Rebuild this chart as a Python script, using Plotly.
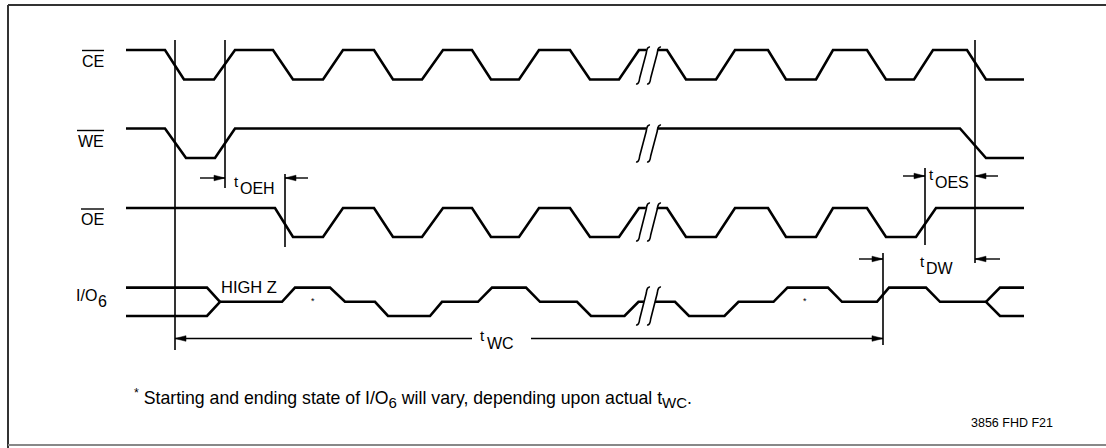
import plotly.graph_objects as go

# ---------------- data ----------------
# transition times on the horizontal time axis and logic levels (1 = high, 0 = low)
CE_T = [126, 165, 184, 214, 235, 273, 293, 323, 343, 374, 393, 422, 443, 472, 491, 519, 539, 570,
        590, 619, 639, 667, 686, 716, 735, 768, 786, 816, 833, 867, 886, 914, 933, 967, 986, 1024]
CE_L = [1, 1, 0, 0] * 9

WE_T = [126, 165, 186, 215, 235, 960, 986, 1024]
WE_L = [1, 1, 0, 0, 1, 1, 0, 0]

OE_T = [126, 275, 293, 323, 343, 374, 393, 422, 443, 472, 491, 519, 539, 570, 590, 619, 639, 667,
        686, 716, 735, 768, 786, 816, 833, 867, 886, 916, 936, 1024]
OE_L = [1, 1, 0, 0] * 7 + [1, 1]

# I/O6: 2 = high, 1 = high Z (middle), 0 = low
IO_T = [220, 282, 295, 330, 345, 375, 388, 430, 442, 478, 492, 526, 540, 577, 591, 624.5, 638.5,
        675, 689, 724.5, 738.5, 773.5, 787.5, 828, 842, 877, 889, 926, 940, 986]
IO_L = [1, 1, 2, 2, 1, 1, 0, 0, 1, 1, 2, 2, 1, 1, 0, 0, 1, 1, 0, 0, 1, 1, 2, 2, 1, 1, 2, 2, 1, 1]
IO_START_T = [126, 207, 220]
IO_START_HI = [2, 2, 1]
IO_START_LO = [0, 0, 1]
IO_END_T = [986, 1000, 1024]
IO_END_HI = [1, 2, 2]
IO_END_LO = [1, 0, 0]

# timing reference edges (time, top, bottom)
REF_T = [175, 225, 285, 925, 975, 883]
REF_TOP = [40, 40, 174, 168, 40, 253]
REF_BOT = [350, 188, 247, 245, 263, 345]

# dimension arrows: (from, to, row); arrowhead at "to"
ARROW_FROM = [200, 308, 903, 998, 859, 1000, 472, 531]
ARROW_TO = [225, 285, 925, 975, 883, 975, 175, 883]
ARROW_ROW = [178, 178, 176, 176, 259, 259, 338.5, 338.5]

BREAK_T = [643, 654]
STAR_T = [313, 805]

SIGNAL_LABELS = ["CE", "WE", "OE"]

# ---------------- layout helpers ----------------
LANES = {"CE": (79.5, 29.5), "WE": (158.0, 29.5), "OE": (237.0, 29.0), "IO": (316.0, 14.2)}
BREAK_SPAN = {"CE": (47, 84), "WE": (125, 162), "OE": (203, 241), "IO": (287, 325)}


def ys(lane, levels):
    base, amp = LANES[lane]
    return [base - l * amp for l in levels]


W, H = 1106, 448
fig = go.Figure()
SIG = dict(color="black", width=2.6)

for lane, t, l in [("CE", CE_T, CE_L), ("WE", WE_T, WE_L), ("OE", OE_T, OE_L), ("IO", IO_T, IO_L),
                   ("IO", IO_START_T, IO_START_HI), ("IO", IO_START_T, IO_START_LO),
                   ("IO", IO_END_T, IO_END_HI), ("IO", IO_END_T, IO_END_LO)]:
    fig.add_trace(go.Scatter(x=t, y=ys(lane, l), mode="lines", line=SIG, hoverinfo="skip"))

# reference verticals
vx, vy = [], []
for t, a, b in zip(REF_T, REF_TOP, REF_BOT):
    vx += [t, t, None]
    vy += [a, b, None]
fig.add_trace(go.Scatter(x=vx, y=vy, mode="lines", line=dict(color="black", width=1.6), hoverinfo="skip"))

# dimension lines
hx, hy = [], []
for a, b, r in zip(ARROW_FROM, ARROW_TO, ARROW_ROW):
    hx += [a, b, None]
    hy += [r, r, None]
fig.add_trace(go.Scatter(x=hx, y=hy, mode="lines", line=dict(color="black", width=1.4), hoverinfo="skip"))

shapes = []
# arrowheads
for a, b, r in zip(ARROW_FROM, ARROW_TO, ARROW_ROW):
    d = 1 if b > a else -1
    shapes.append(dict(type="path", xref="x", yref="y",
                       path=f"M {b},{r} L {b - d * 11},{r - 2.8} L {b - d * 11},{r + 2.8} Z",
                       fillcolor="black", line=dict(color="black", width=0.5)))

# break marks
c1, c2 = BREAK_T
for lane, (yt, yb) in BREAK_SPAN.items():
    shapes.append(dict(type="path", xref="x", yref="y",
                       path=f"M {c1-4},{yb+1} L {c1+4},{yt-1} L {c2+4},{yt-1} L {c2-4},{yb+1} Z",
                       fillcolor="white", line=dict(width=0)))
    for c in (c1, c2):
        shapes.append(dict(type="path", xref="x", yref="y",
                           path=(f"M {c-7},{yb} Q {c-4},{yb+0.5} {c-3.3},{yb-6} "
                                 f"L {c+3.3},{yt+6} Q {c+4},{yt-0.5} {c+7},{yt}"),
                           line=dict(color="black", width=1.6)))

# overlines on active-low signal names
for lane, (x0, y0) in {"CE": (82, 50.5), "WE": (77, 130.5), "OE": (81, 209)}.items():
    shapes.append(dict(type="line", xref="x", yref="y", x0=x0, x1=104, y0=y0, y1=y0,
                       line=dict(color="black", width=1.4)))

# frame
shapes.append(dict(type="line", xref="x", yref="y", x0=8, x1=W, y0=5, y1=5,
                   line=dict(color="#333333", width=2)))
shapes.append(dict(type="line", xref="x", yref="y", x0=8, x1=8, y0=5, y1=H,
                   line=dict(color="#333333", width=2)))
shapes.append(dict(type="line", xref="x", yref="y", x0=8, x1=W, y0=445, y1=445,
                   line=dict(color="#888888", width=2)))

FONT = "Liberation Sans, Arial, sans-serif"
ann = []


def txt(x, y, s, size=16, xanchor="left", yanchor="middle"):
    ann.append(dict(x=x, y=y, xref="x", yref="y", text=s, showarrow=False, xanchor=xanchor,
                    yanchor=yanchor, borderpad=0, borderwidth=0,
                    font=dict(family=FONT, size=size, color="black")))


txt(104, 61, SIGNAL_LABELS[0], xanchor="right")
txt(104, 141, SIGNAL_LABELS[1], xanchor="right")
txt(104, 219, SIGNAL_LABELS[2], xanchor="right")
txt(97, 295, "I/O", xanchor="right")
txt(97.5, 301, "6")
txt(221, 287, "HIGH Z", size=16.5)
# timing parameter labels: t + subscript
for tx, ty, sx, sy, sub in [(234, 181, 240, 188.5, "OEH"), (929, 174, 935, 182.5, "OES"),
                            (920, 261.5, 926, 268, "DW"), (480, 335.5, 487, 343, "WC")]:
    txt(tx, ty, "t", size=15)
    txt(sx, sy, sub, size=16)
for sx_ in STAR_T:
    txt(sx_, 301, "*", size=9, xanchor="center")

SUBF = "<sub><span style='font-size:15px'>%s</span></sub>"
txt(134, 398, "<sup>*</sup> Starting and ending state of I/O" + SUBF % "6"
    + " will vary, depending upon actual t" + SUBF % "WC" + ".", size=17.7)
txt(971, 423, "3856 FHD F21", size=12.5)

fig.update_layout(width=W, height=H, margin=dict(l=0, r=0, t=0, b=0), autosize=False,
                  showlegend=False, paper_bgcolor="white", plot_bgcolor="white",
                  xaxis=dict(range=[0, W], visible=False, fixedrange=True),
                  yaxis=dict(range=[H, 0], visible=False, fixedrange=True),
                  shapes=shapes, annotations=ann)
fig.write_html("out.html", config={"displayModeBar": False},
               post_script="document.body.style.margin='0';document.body.style.overflow='hidden';")
